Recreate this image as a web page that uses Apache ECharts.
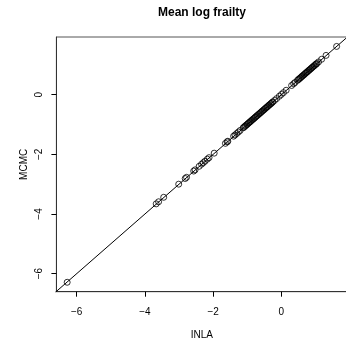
<!DOCTYPE html>
<html>
<head>
<meta charset="utf-8">
<script src="https://cdn.jsdelivr.net/npm/echarts@6/dist/echarts.min.js"></script>
<style>html,body{margin:0;padding:0;background:#fff}#c{width:346px;height:340px}</style>
</head>
<body>
<div id="c"></div>
<script>
var titleText = "Mean log frailty";
var xName = "INLA";
var yName = "MCMC";
var tickValues = [-6, -4, -2, 0];

var inla = [-6.28, -3.67, -3.60, -3.45, -3.01, -2.82, -2.78, -2.57, -2.53, -2.41, -2.34, -2.29, -2.24, -2.17, -2.12, -1.97,
  -1.64, -1.59, -1.57, -1.40, -1.36, -1.31, -1.26, -1.21,
  -1.12, -1.10, -1.07, -1.05, -1.02, -1.00, -0.97, -0.95, -0.92, -0.90, -0.87, -0.85, -0.82, -0.80, -0.77, -0.75,
  -0.72, -0.70, -0.67, -0.65, -0.62, -0.60, -0.57, -0.55, -0.52, -0.50, -0.47, -0.45, -0.42, -0.40, -0.37, -0.35,
  -0.32, -0.30, -0.27, -0.25, -0.20, -0.14, -0.06, 0.00, 0.06, 0.14, 0.30, 0.36, 0.40,
  0.47, 0.50, 0.52, 0.55, 0.57, 0.60, 0.62, 0.65, 0.67, 0.70, 0.72, 0.75, 0.77, 0.80, 0.82, 0.85, 0.87, 0.90, 0.92,
  0.95, 0.97, 1.00, 1.02, 1.04, 1.09, 1.18, 1.31, 1.62];
var mcmc = [-6.29, -3.66, -3.59, -3.44, -3.00, -2.81, -2.77, -2.56, -2.52, -2.40, -2.33, -2.28, -2.23, -2.16, -2.11, -1.96,
  -1.63, -1.58, -1.56, -1.39, -1.35, -1.30, -1.25, -1.20,
  -1.11, -1.09, -1.06, -1.04, -1.01, -0.99, -0.96, -0.94, -0.91, -0.89, -0.86, -0.84, -0.81, -0.79, -0.76, -0.74,
  -0.71, -0.69, -0.66, -0.64, -0.61, -0.59, -0.56, -0.54, -0.51, -0.49, -0.46, -0.44, -0.41, -0.39, -0.36, -0.34,
  -0.31, -0.29, -0.26, -0.24, -0.19, -0.13, -0.05, 0.01, 0.07, 0.15, 0.31, 0.37, 0.41,
  0.48, 0.51, 0.53, 0.56, 0.58, 0.61, 0.63, 0.66, 0.68, 0.71, 0.73, 0.76, 0.78, 0.81, 0.83, 0.86, 0.88, 0.91, 0.93,
  0.96, 0.98, 1.01, 1.03, 1.05, 1.10, 1.19, 1.32, 1.62];

function ext(a) {
  var lo = Math.min.apply(null, a), hi = Math.max.apply(null, a), d = (hi - lo) * 0.04;
  return [lo - d, hi + d];
}
var xr = ext(inla), yr = ext(mcmc);
var pts = inla.map(function (v, i) { return [v, mcmc[i]]; });
var diag = [[Math.min(xr[0], yr[0]) - 1, Math.min(xr[0], yr[0]) - 1], [Math.max(xr[1], yr[1]) + 1, Math.max(xr[1], yr[1]) + 1]];

function fmt(v) { return v < 0 ? '\u2212' + Math.abs(v) : String(v); }
var font = 'Liberation Sans, Arial, Helvetica, sans-serif';

var chart = echarts.init(document.getElementById('c'), null, {renderer: 'canvas'});
chart.setOption({
  animation: false,
  backgroundColor: '#fff',
  title: {
    text: titleText, left: 197, top: 2, textAlign: 'center',
    textStyle: {fontFamily: font, fontSize: 12, fontWeight: 'bold', color: '#000'}
  },
  grid: {left: 56.4, top: 37, width: 291, height: 254.7, outerBoundsMode: 'none', containLabel: false,
    show: true, borderColor: '#555', borderWidth: 1, backgroundColor: 'transparent'},
  xAxis: {
    type: 'value', min: xr[0], max: xr[1],
    name: xName, nameLocation: 'middle', nameGap: 39, nameMoveOverlap: false,
    nameTextStyle: {fontFamily: font, fontSize: 10, color: '#000'},
    axisLine: {show: true, onZero: false, lineStyle: {color: '#333', width: 1}},
    splitLine: {show: false},
    axisTick: {show: true, inside: false, length: 5, customValues: tickValues, lineStyle: {color: '#000', width: 1}},
    axisLabel: {customValues: tickValues, formatter: fmt, margin: 15.5, fontFamily: font, fontSize: 10, color: '#000'}
  },
  yAxis: {
    type: 'value', min: yr[0], max: yr[1],
    name: yName, nameLocation: 'middle', nameGap: 27, nameMoveOverlap: false,
    nameTextStyle: {fontFamily: font, fontSize: 10, color: '#000'},
    axisLine: {show: true, onZero: false, lineStyle: {color: '#333', width: 1}},
    splitLine: {show: false},
    axisTick: {show: true, inside: false, length: 5, customValues: tickValues, lineStyle: {color: '#000', width: 1}},
    axisLabel: {customValues: tickValues, formatter: fmt, rotate: 90, margin: 12, fontFamily: font, fontSize: 10, color: '#000'}
  },
  series: [
    {
      type: 'line', data: diag, symbol: 'none', clip: true, silent: true,
      lineStyle: {color: '#000', width: 1}
    },
    {
      type: 'scatter', data: pts, symbol: 'circle', symbolSize: 6, clip: false,
      itemStyle: {color: 'transparent', borderColor: '#000', borderWidth: 1}
    }
  ]
});
</script>
</body>
</html>
